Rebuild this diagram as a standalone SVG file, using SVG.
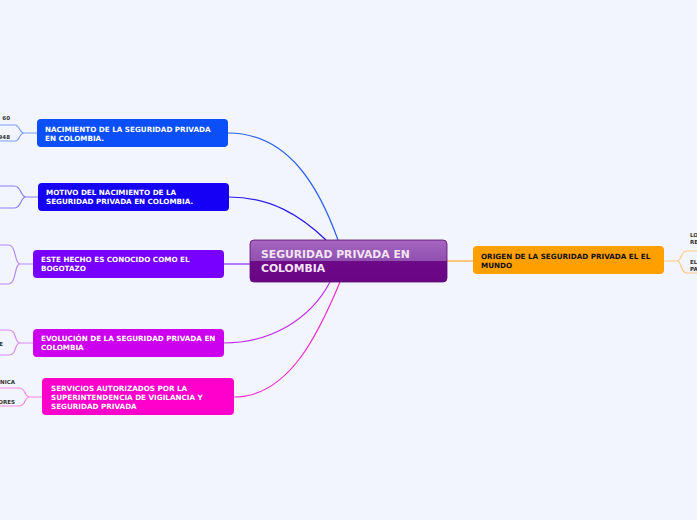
<svg xmlns="http://www.w3.org/2000/svg" width="697" height="520" viewBox="0 0 697 520">
<defs>
<linearGradient id="cg" x1="0" y1="0" x2="0" y2="1">
<stop offset="0" stop-color="#a566c0"/>
<stop offset="0.5" stop-color="#9050b0"/>
<stop offset="0.5" stop-color="#6d0a88"/>
<stop offset="1" stop-color="#6a0585"/>
</linearGradient>
<style>
.t{font-family:"DejaVu Sans",Verdana,sans-serif;font-weight:bold;font-size:7.2px;fill:#ffffff}
.tb{font-family:"DejaVu Sans",Verdana,sans-serif;font-weight:bold;font-size:7.2px;fill:#111111}
.tc{font-family:"DejaVu Sans",Verdana,sans-serif;font-weight:bold;font-size:10.8px;fill:#f4e4f4}
.s{font-family:"DejaVu Sans",Verdana,sans-serif;font-weight:bold;font-size:5.5px;fill:#333333}
.c{fill:none;stroke-width:1.2}
</style>
</defs>
<rect width="697" height="520" fill="#f2f5fd"/>
<g id="connectors">
<path class="c" stroke="#2a62f5" d="M228,133 C290,133 320,190 338,240"/>
<path class="c" stroke="#2c18e8" d="M229,197 C270,197 300,215 326,240"/>
<path class="c" stroke="#8a2cf5" d="M224,264 L250,264"/>
<path class="c" stroke="#c42cf0" d="M224,343 C270,343 310,320 330,282"/>
<path class="c" stroke="#f52cd0" d="M234,397 C290,397 320,330 340,282"/>
<path class="c" stroke="#ffa830" d="M447,261 L473,261"/>
<path class="c" stroke="#7d9cf8" d="M37,133 L24,133 C19,133 20,125 15,125 L0,125 M24,133 C19,133 20,141 15,141 L0,141"/>
<path class="c" stroke="#8a80f5" d="M38,197 L26,197 C20,197 22,186 14,186 L0,186 M26,197 C20,197 22,208 14,208 L0,208"/>
<path class="c" stroke="#b48af5" d="M33,264 L20,264 C14,264 17,245 8,245 L0,245 M20,264 C14,264 17,284 8,284 L0,284"/>
<path class="c" stroke="#d98af5" d="M33,343 L20,343 C14,343 17,330 9,330 L0,330 M20,343 C14,343 17,355 9,355 L0,355"/>
<path class="c" stroke="#f58ae0" d="M42,397 L30,397 C24,397 26,388 19,388 L0,388 M30,397 C24,397 26,406 19,406 L0,406"/>
<path class="c" stroke="#fdc880" d="M664,261 L677,261 C682,261 680,251 687,251 L697,251 M677,261 C682,261 680,273 687,273 L697,273"/>
</g>
<g id="central">
<rect x="250" y="240" width="197" height="42" rx="4" fill="url(#cg)" stroke="#5a0a70" stroke-width="0.8"/>
<text class="tc" x="261" y="258">SEGURIDAD PRIVADA EN</text>
<text class="tc" x="261" y="272">COLOMBIA</text>
</g>
<g id="n1">
<rect x="37" y="119" width="191" height="28" rx="4" fill="#0a4ff8"/>
<text class="t" x="45" y="132">NACIMIENTO DE LA SEGURIDAD PRIVADA</text>
<text class="t" x="45" y="141">EN COLOMBIA.</text>
</g>
<g id="n2">
<rect x="38" y="183" width="191" height="28" rx="4" fill="#1500f5"/>
<text class="t" x="46" y="195">MOTIVO DEL NACIMIENTO DE LA</text>
<text class="t" x="46" y="204">SEGURIDAD PRIVADA EN COLOMBIA.</text>
</g>
<g id="n3">
<rect x="33" y="250" width="191" height="28" rx="4" fill="#7700ff"/>
<text class="t" x="41" y="262">ESTE HECHO ES CONOCIDO COMO EL</text>
<text class="t" x="41" y="271">BOGOTAZO</text>
</g>
<g id="n4">
<rect x="33" y="329" width="191" height="28" rx="4" fill="#cc00ee"/>
<text class="t" x="41" y="341">EVOLUCIÓN DE LA SEGURIDAD PRIVADA EN</text>
<text class="t" x="41" y="350">COLOMBIA</text>
</g>
<g id="n5">
<rect x="42" y="378" width="192" height="37" rx="4" fill="#ff00cc"/>
<text class="t" x="51" y="391">SERVICIOS AUTORIZADOS POR LA</text>
<text class="t" x="51" y="400">SUPERINTENDENCIA DE VIGILANCIA Y</text>
<text class="t" x="51" y="409">SEGURIDAD PRIVADA</text>
</g>
<g id="n6">
<rect x="473" y="246" width="191" height="28" rx="4" fill="#ff9f00"/>
<text class="tb" x="481" y="259">ORIGEN DE LA SEGURIDAD PRIVADA EL EL</text>
<text class="tb" x="481" y="268">MUNDO</text>
</g>
<g id="children">
<text class="s" x="10" y="120" text-anchor="end">60</text>
<text class="s" x="10" y="139" text-anchor="end">948</text>
<text class="s" x="3" y="346" text-anchor="end">E</text>
<text class="s" x="15" y="384" text-anchor="end">NICA</text>
<text class="s" x="15" y="404" text-anchor="end">ORES</text>
<text class="s" x="690" y="237">LO</text>
<text class="s" x="690" y="244">RE</text>
<text class="s" x="690" y="264">EL</text>
<text class="s" x="690" y="271">PA</text>
</g>
</svg>
